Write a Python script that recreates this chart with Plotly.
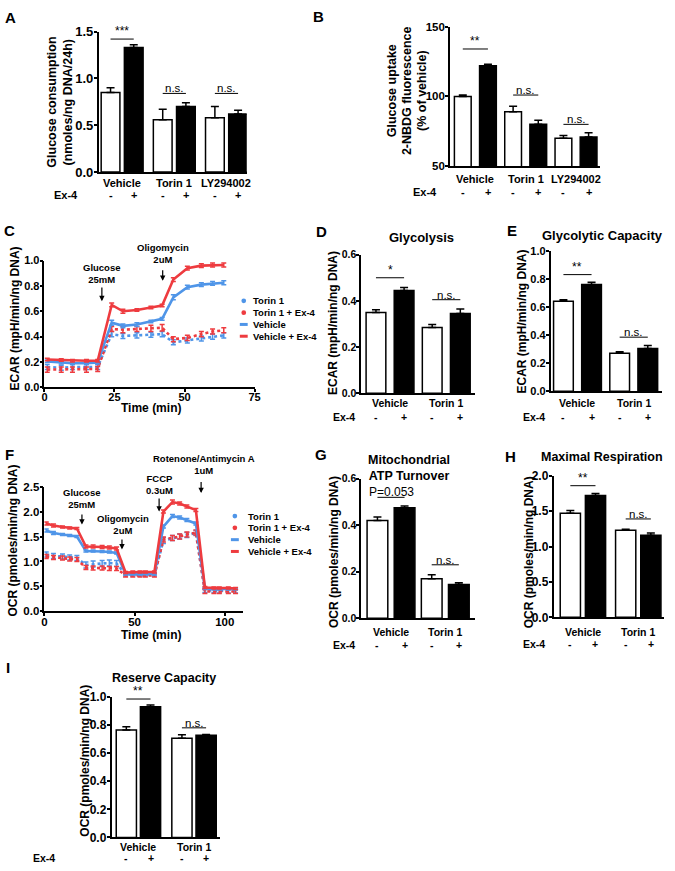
import plotly.graph_objects as go

W, H = 675, 871
FONT = "Liberation Sans"
RED = "#ee3b3f"
BLUE = "#4f95e8"

# ---------------- data ----------------
ex4_signs = ["-", "+"]

# A  glucose consumption (nmoles/ng DNA/24h)
a_groups = ["Vehicle", "Torin 1", "LY294002"]
a_mean = [0.85, 1.33, 0.56, 0.70, 0.58, 0.62]
a_err = [0.05, 0.03, 0.11, 0.04, 0.12, 0.04]
a_sig = [(0, 1.42, "***"), (1, 0.84, "n.s."), (2, 0.84, "n.s.")]

# B  glucose uptake, 2-NBDG (% of vehicle)
b_groups = ["Vehicle", "Torin 1", "LY294002"]
b_mean = [100, 122, 89, 80, 70, 71]
b_err = [1, 1, 4, 3, 2, 3]
b_sig = [(0, 134, "**"), (1, 101, "n.s."), (2, 80, "n.s.")]

# C  ECAR time course
c_time = [1, 6, 10, 15, 19, 24, 28, 33, 38, 42, 46, 51, 56, 60, 64]
c_veh = [0.205, 0.195, 0.19, 0.19, 0.195, 0.51, 0.485, 0.495, 0.52, 0.54, 0.71, 0.79, 0.81, 0.82, 0.825]
c_veh_err = [0.01, 0.01, 0.01, 0.01, 0.01, 0.02, 0.015, 0.015, 0.01, 0.01, 0.02, 0.015, 0.015, 0.015, 0.015]
c_veh_ex4 = [0.22, 0.215, 0.21, 0.21, 0.21, 0.65, 0.60, 0.61, 0.63, 0.645, 0.85, 0.94, 0.96, 0.965, 0.965]
c_veh_ex4_err = [0.01, 0.01, 0.01, 0.01, 0.01, 0.015, 0.015, 0.01, 0.01, 0.01, 0.015, 0.015, 0.015, 0.015, 0.015]
c_tor = [0.16, 0.155, 0.16, 0.16, 0.16, 0.42, 0.405, 0.41, 0.415, 0.42, 0.355, 0.37, 0.385, 0.40, 0.41]
c_tor_err = [0.02, 0.02, 0.02, 0.02, 0.02, 0.02, 0.02, 0.02, 0.02, 0.02, 0.02, 0.02, 0.02, 0.02, 0.02]
c_tor_ex4 = [0.14, 0.14, 0.14, 0.14, 0.145, 0.46, 0.455, 0.46, 0.465, 0.47, 0.38, 0.39, 0.42, 0.44, 0.45]
c_tor_ex4_err = [0.02, 0.02, 0.02, 0.02, 0.02, 0.02, 0.025, 0.02, 0.025, 0.025, 0.02, 0.02, 0.02, 0.02, 0.02]

# D glycolysis, E glycolytic capacity
d_groups = ["Vehicle", "Torin 1"]
d_mean = [0.35, 0.445, 0.285, 0.345]
d_err = [0.012, 0.013, 0.013, 0.02]
d_sig = [(0, 0.50, "*"), (1, 0.405, "n.s.")]
e_mean = [0.64, 0.76, 0.27, 0.305]
e_err = [0.012, 0.015, 0.012, 0.02]
e_sig = [(0, 0.83, "**"), (1, 0.385, "n.s.")]

# F  OCR time course
f_time = [1, 5, 10, 14, 18, 23, 27, 32, 36, 40, 45, 49, 53, 56, 61,
          66, 71, 75, 79, 84, 89, 94, 97, 102, 106]
f_veh = [1.62, 1.57, 1.54, 1.52, 1.50, 1.21, 1.21, 1.20, 1.19, 1.17, 0.75, 0.75, 0.75, 0.76, 0.75,
         1.70, 1.91, 1.88, 1.83, 1.76, 0.46, 0.45, 0.45, 0.45, 0.45]
f_veh_err = [0.03, 0.03, 0.02, 0.02, 0.02, 0.02, 0.02, 0.02, 0.02, 0.02, 0.02, 0.02, 0.02, 0.02, 0.02,
             0.03, 0.03, 0.03, 0.03, 0.03, 0.02, 0.02, 0.02, 0.02, 0.02]
f_veh_ex4 = [1.76, 1.72, 1.69, 1.67, 1.66, 1.30, 1.30, 1.29, 1.28, 1.26, 0.78, 0.79, 0.79, 0.79, 0.79,
             2.00, 2.19, 2.16, 2.10, 2.03, 0.48, 0.47, 0.47, 0.47, 0.46]
f_veh_ex4_err = [0.03, 0.03, 0.02, 0.02, 0.02, 0.03, 0.03, 0.03, 0.03, 0.03, 0.02, 0.02, 0.02, 0.02, 0.02,
                 0.03, 0.04, 0.03, 0.03, 0.03, 0.02, 0.02, 0.02, 0.02, 0.02]
f_tor = [1.14, 1.11, 1.10, 1.08, 1.07, 0.93, 0.95, 0.96, 0.97, 0.96, 0.74, 0.74, 0.74, 0.74, 0.74,
         1.42, 1.47, 1.50, 1.53, 1.57, 0.42, 0.42, 0.41, 0.41, 0.41]
f_tor_err = [0.05, 0.05, 0.05, 0.05, 0.05, 0.06, 0.06, 0.06, 0.06, 0.06, 0.03, 0.03, 0.03, 0.03, 0.03,
             0.06, 0.05, 0.05, 0.05, 0.05, 0.04, 0.04, 0.04, 0.04, 0.04]
f_tor_ex4 = [1.10, 1.08, 1.07, 1.05, 1.04, 0.88, 0.87, 0.87, 0.86, 0.86, 0.72, 0.72, 0.72, 0.72, 0.72,
             1.44, 1.47, 1.50, 1.54, 1.58, 0.40, 0.40, 0.40, 0.40, 0.40]
f_tor_ex4_err = [0.04, 0.04, 0.04, 0.04, 0.04, 0.04, 0.04, 0.04, 0.04, 0.04, 0.03, 0.03, 0.03, 0.03, 0.03,
                 0.05, 0.05, 0.05, 0.05, 0.05, 0.04, 0.04, 0.04, 0.04, 0.04]

# G ATP turnover, H maximal respiration, I reserve capacity
g_mean = [0.42, 0.475, 0.17, 0.145]
g_err = [0.015, 0.008, 0.017, 0.008]
g_sig = [(0, 0.52, "P=0.053"), (1, 0.23, "n.s.")]
h_mean = [1.47, 1.72, 1.23, 1.16]
h_err = [0.04, 0.03, 0.015, 0.03]
h_sig = [(0, 1.86, "**"), (1, 1.39, "n.s.")]
i_mean = [0.765, 0.93, 0.705, 0.728]
i_err = [0.022, 0.012, 0.025, 0.005]
i_sig = [(0, 0.985, "**"), (1, 0.78, "n.s.")]

legend_names = ["Torin 1", "Torin 1 + Ex-4", "Vehicle", "Vehicle + Ex-4"]

# ---------------- helpers ----------------
fig = go.Figure()
annos = []
shapes = []
lay = {}


def fx(px):
    return px / W


def fy(py):
    return 1 - py / H


def names(n):
    s = "" if n == 1 else str(n)
    return "x" + s, "y" + s, "xaxis" + s, "yaxis" + s


def txt(x, y, s, size=11, bold=True, xref="paper", yref="paper", angle=0,
        xanchor="center", yanchor="middle", yshift=0):
    annos.append(dict(x=x, y=y, xref=xref, yref=yref, text=s, showarrow=False,
                      textangle=angle, xanchor=xanchor, yanchor=yanchor, yshift=yshift,
                      font=dict(family=FONT, size=size, color="black",
                                weight="bold" if bold else "normal")))


def axes(n, box, xr, yr, dtick, fmt, tsize, xticks=None):
    L, R, top, bottom = box
    xa, ya, xk, yk = names(n)
    xd = dict(domain=[fx(L), fx(R)], range=xr, anchor=ya, showline=True, linecolor="black",
              linewidth=1.6, showgrid=False, zeroline=False, ticks="", showticklabels=False)
    if xticks:
        xd.update(tickvals=xticks, ticks="outside", ticklen=3, tickwidth=1.5, tickcolor="black",
                  showticklabels=True, ticklabelstandoff=-4,
                  tickfont=dict(family=FONT, size=tsize, color="black", weight="bold"))
    lay[xk] = xd
    lay[yk] = dict(domain=[fy(bottom), fy(top)], range=yr, anchor=xa, dtick=dtick, tick0=yr[0],
                   tickformat=fmt, showline=True, linecolor="black", linewidth=1.6, showgrid=False,
                   zeroline=False, ticks="outside", ticklen=3, tickwidth=1.5, tickcolor="black",
                   ticklabelstandoff=-2,
                   tickfont=dict(family=FONT, size=tsize, color="black", weight="bold"))


def bar_panel(n, box, yr, dtick, mean, err, groups, sig, gap, unit, off, bw,
              lab_y, ex_y, ex_x, tsize=12, fmt=".1f", lsize=10.5):
    L, R, top, bottom = box
    xa, ya, _, _ = names(n)
    pos = [g * (2 + gap) + k for g in range(len(groups)) for k in (0, 1)]
    x0 = -off / unit
    axes(n, box, [x0, x0 + (R - L) / unit], yr, dtick, fmt, tsize)
    fig.add_trace(go.Bar(
        x=pos, y=mean, width=bw / unit, xaxis=xa, yaxis=ya, showlegend=False,
        marker=dict(color=["white", "black"] * len(groups), line=dict(color="black", width=1.5)),
        error_y=dict(type="data", array=err, arrayminus=[0] * len(err), symmetric=False,
                     color="black", thickness=1.5, width=4)))
    for g, name in enumerate(groups):
        txt((pos[2 * g] + pos[2 * g + 1]) / 2, fy(lab_y), name, size=lsize, xref=xa)
        for k in (0, 1):
            txt(pos[2 * g + k], fy(ex_y), ex4_signs[k], size=lsize, xref=xa)
    txt(fx(ex_x), fy(ex_y), "Ex-4", size=lsize)
    for gi, yv, s in sig:
        a, b = pos[2 * gi], pos[2 * gi + 1]
        shapes.append(dict(type="line", xref=xa, yref=ya, x0=a, x1=b, y0=yv, y1=yv,
                           line=dict(color="black", width=1)))
        if s.startswith("*"):
            txt((a + b) / 2, yv, s, size=12, bold=False, xref=xa, yref=ya, yanchor="bottom", yshift=-1)
        elif s.startswith("P"):
            txt((a + b) / 2, yv, s, size=12, bold=False, xref=xa, yref=ya, yanchor="bottom", yshift=-4)
        else:
            txt((a + b) / 2, yv, s, size=11.5, bold=False, xref=xa, yref=ya, yanchor="bottom", yshift=-3)


def line_panel(n, box, xr, xticks, yr, dtick, time, series, tsize=11.5):
    xa, ya, _, _ = names(n)
    axes(n, box, xr, yr, dtick, ".1f", tsize, xticks=xticks)
    for vals, errs, color, dash in series:
        fig.add_trace(go.Scatter(
            x=time, y=vals, mode="lines", xaxis=xa, yaxis=ya, showlegend=False,
            line=dict(color=color, width=2.6, dash=dash),
            error_y=dict(type="data", array=errs, color=color, thickness=1.5, width=2.5)))


def legend(x_glyph, x_text, rows):
    styles = [(BLUE, "dot"), (RED, "dot"), (BLUE, "dash"), (RED, "dash")]
    for (color, kind), name, py in zip(styles, legend_names, rows):
        if kind == "dot":
            shapes.append(dict(type="circle", xref="paper", yref="paper",
                               x0=fx(x_glyph - 2.4), x1=fx(x_glyph + 2.4),
                               y0=fy(py + 2.4), y1=fy(py - 2.4),
                               fillcolor=color, line=dict(color=color, width=0)))
        else:
            shapes.append(dict(type="line", xref="paper", yref="paper",
                               x0=fx(x_glyph - 4), x1=fx(x_glyph + 4), y0=fy(py), y1=fy(py),
                               line=dict(color=color, width=3)))
        txt(fx(x_text), fy(py), name, size=9.5, xanchor="left")


def arrow(n, box, ymax, x, tip, tail, label, lx, ly):
    xa, ya, _, _ = names(n)
    top, bottom = box[2], box[3]
    annos.append(dict(x=x, y=tip, ax=x, ay=tail, xref=xa, yref=ya, axref=xa, ayref=ya,
                      text="", showarrow=True, arrowhead=2, arrowsize=0.9, arrowwidth=1.2,
                      arrowcolor="black"))
    # label may sit above the axis range, so place it in paper units
    py = bottom - ly / ymax * (bottom - top)
    txt(lx, fy(py), label, size=9.5, xref=xa)


# ---------------- panels ----------------
# A
bar_panel(1, (97, 247, 25, 168), [0, 1.5], 0.5, a_mean, a_err, a_groups, a_sig,
          0.25, 23.5, 12, 19, 179, 191, 64, tsize=13, lsize=11)
txt(fx(50), fy(97), "Glucose consumption", size=12.5, angle=-90)
txt(fx(66), fy(97), "(nmoles/ng DNA/24h)", size=12.5, angle=-90)

# B
bar_panel(2, (453, 605, 20, 162), [50, 150], 50, b_mean, b_err, b_groups, b_sig,
          0, 25.5, 13, 17, 175, 188, 428, tsize=11.5, fmt="d", lsize=11)
txt(fx(394), fy(85), "Glucose uptake", size=12.5, angle=-90)
txt(fx(409), fy(85), "2-NBDG fluorescence", size=12.5, angle=-90)
txt(fx(424), fy(85), "(% of vehicle)", size=12.5, angle=-90)

# C
c_box = (42, 255, 258, 387)
line_panel(3, c_box, [0, 75], [0, 25, 50, 75], [0, 1.0], 0.2, c_time,
           [(c_tor, c_tor_err, BLUE, "dot"), (c_tor_ex4, c_tor_ex4_err, RED, "dot"),
            (c_veh, c_veh_err, BLUE, "solid"), (c_veh_ex4, c_veh_ex4_err, RED, "solid")],
           tsize=11)
txt(fx(12), fy(317), "ECAR (mpH/min/ng DNA)", size=12, angle=-90)
txt(fx(150), fy(408), "Time (min)", size=12)
arrow(3, c_box, 1.0, 20.5, 0.68, 0.80, "Glucose<br>25mM", 20.5, 0.895)
arrow(3, c_box, 1.0, 42.2, 0.84, 0.935, "Oligomycin<br>2uM", 42.2, 1.055)
legend(244, 251, [299, 311, 323, 335])

# D
bar_panel(4, (363, 478, 252, 393), [0, 0.6], 0.2, d_mean, d_err, d_groups, d_sig,
          0, 28.5, 15, 20, 403, 417, 346, tsize=10.5)
txt(fx(424), fy(235), "Glycolysis", size=13)
txt(fx(335), fy(322), "ECAR (mpH/min/ng DNA)", size=12, angle=-90)

# E
bar_panel(5, (555, 668, 248, 391), [0, 1.0], 0.2, e_mean, e_err, d_groups, e_sig,
          0, 28.5, 13, 20, 403, 417, 538, tsize=11)
txt(fx(608), fy(232), "Glycolytic Capacity", size=13)
txt(fx(527), fy(320), "ECAR (mpH/min/ng DNA)", size=12, angle=-90)

# F
f_box = (42, 243, 488, 615)
line_panel(6, f_box, [0, 110], [0, 50, 100], [0, 2.5], 0.5, f_time,
           [(f_tor, f_tor_err, BLUE, "dot"), (f_tor_ex4, f_tor_ex4_err, RED, "dot"),
            (f_veh, f_veh_err, BLUE, "solid"), (f_veh_ex4, f_veh_ex4_err, RED, "solid")],
           tsize=11.5)
txt(fx(10), fy(543), "OCR (pmoles/min/ng DNA)", size=12, angle=-90)
txt(fx(150), fy(639), "Time (min)", size=12)
arrow(6, f_box, 2.5, 20.8, 1.74, 1.97, "Glucose<br>25mM", 20.8, 2.265)
arrow(6, f_box, 2.5, 43.0, 1.24, 1.47, "Oligomycin<br>2uM", 43.5, 1.745)
arrow(6, f_box, 2.5, 63.6, 2.0, 2.29, "FCCP<br>0.3uM", 63.6, 2.55)
arrow(6, f_box, 2.5, 86.9, 2.37, 2.62, "Rotenone/Antimycin A<br>1uM", 88.5, 2.935)
legend(235, 246, [518, 530, 542, 554])

# G
bar_panel(7, (363, 478, 480, 622), [0, 0.6], 0.2, g_mean, g_err, d_groups, g_sig,
          0, 27.5, 16.5, 21, 636, 649, 346, tsize=10.5)
txt(fx(411), fy(469), "Mitochondrial<br>ATP Turnover", size=12.5)
txt(fx(336), fy(555), "OCR (pmoles/min/ng DNA)", size=12, angle=-90)

# H
bar_panel(8, (558, 670, 477, 621), [0, 2.0], 0.5, h_mean, h_err, d_groups, h_sig,
          0.2, 25.5, 17, 20.5, 636, 648, 538, tsize=12)
txt(fx(607), fy(458), "Maximal Respiration", size=12.5)
txt(fx(534), fy(555), "OCR (pmoles/min/ng DNA)", size=12, angle=-90)

# I
bar_panel(9, (110, 220, 702, 845), [0, 1.0], 0.2, i_mean, i_err, d_groups, i_sig,
          0.3, 24.5, 15, 20.5, 855, 866, 42, tsize=12)
txt(fx(163), fy(683), "Reserve Capacity", size=12.5)
txt(fx(83), fy(767), "OCR (pmoles/min/ng DNA)", size=12, angle=-90)

# panel letters
for letter, px, py in [("A", 8, 11), ("B", 320, 10), ("C", 7, 227), ("D", 323, 228),
                       ("E", 516, 227), ("F", 7, 455), ("G", 322, 455), ("H", 514, 457),
                       ("I", 5, 672)]:
    txt(fx(px), fy(py), letter, size=15)

fig.update_layout(width=W, height=H, margin=dict(l=0, r=0, t=0, b=0),
                  paper_bgcolor="white", plot_bgcolor="white", showlegend=False,
                  annotations=annos, shapes=shapes, **lay)
fig.write_html("out.html", config={"displayModeBar": False},
               post_script="document.body.style.margin='0';")
